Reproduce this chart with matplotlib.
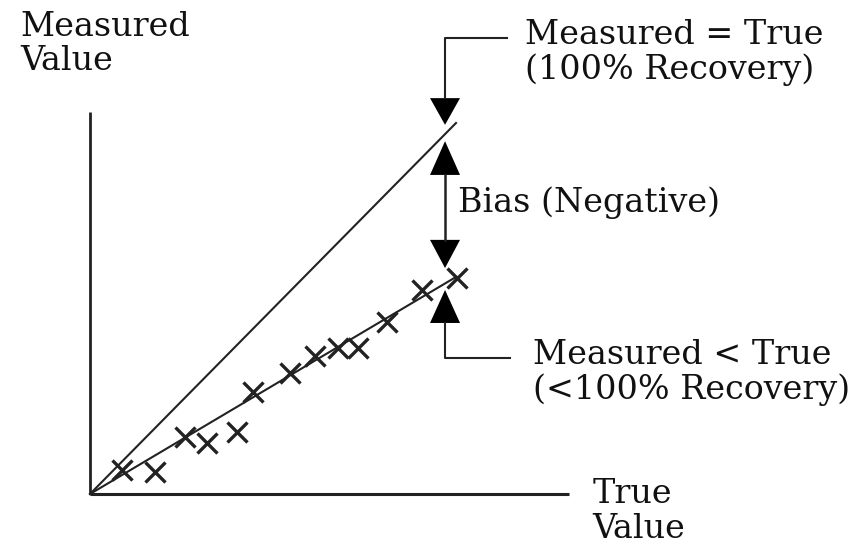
import numpy as np
import matplotlib.pyplot as plt

# measured vs true points
true_vals = [0.87, 1.78, 2.60, 3.19, 4.01, 4.46, 5.46, 6.15, 6.78, 7.33, 8.11, 9.06, 10.02]
meas_vals = [0.65, 0.60, 1.54, 1.37, 1.68, 2.76, 3.25, 3.72, 3.93, 3.93, 4.64, 5.50, 5.81]

ideal_slope = 1.0     # measured = true
fit_slope = 0.585     # measured < true
x_end = 10.0

labels = ["Measured = True\n(100% Recovery)", "Bias (Negative)",
          "Measured < True\n(<100% Recovery)", "True\nValue", "Measured\nValue"]


def tri(ax, x, tip, base, hw=0.41):
    ax.fill([x - hw, x + hw, x], [base, base, tip], color="black", lw=0)


fig = plt.figure(figsize=(8.54, 5.52), dpi=100)
ax = fig.add_axes([0, 0, 1, 1])
ax.set_xlim(-2.459, 20.874)
ax.set_ylim(-1.563, 13.315)
ax.axis("off")

font = dict(family="DejaVu Serif", fontsize=24, color="#111", linespacing=1.1)

# axes
ax.plot([0, 0], [0, 10.3], color="#222", lw=2, solid_capstyle="butt")
ax.plot([0, 13.1], [0, 0], color="#222", lw=2.2, solid_capstyle="butt")

# lines
xs = np.array([0, x_end])
ax.plot(xs, ideal_slope * xs, color="#222", lw=1.5)
ax.plot(xs, fit_slope * xs, color="#222", lw=1.5)
ax.plot(true_vals, meas_vals, "x", color="#222", ms=14, mew=2.4)

# arrows
xa = 9.70
ax.plot([11.39, xa, xa], [12.29, 12.29, 10.67], color="#222", lw=1.5)
tri(ax, xa, 9.95, 10.67)
tri(ax, xa, 9.51, 8.60)
ax.plot([xa, xa], [8.60, 6.85], color="#222", lw=1.8)
tri(ax, xa, 6.09, 6.85)
tri(ax, xa, 5.50, 4.61)
ax.plot([xa, xa, 11.48], [4.61, 3.67, 3.67], color="#222", lw=1.5)

# text
ax.text(11.89, 12.80, labels[0], va="top", ha="left", **font)
ax.text(10.05, 7.85, labels[1], va="center", ha="left", **font)
ax.text(12.10, 4.18, labels[2], va="top", ha="left", **font)
ax.text(13.72, 0.42, labels[3], va="top", ha="left", **font)
ax.text(-1.91, 13.02, labels[4], va="top", ha="left", **font)

fig.savefig("out.png", dpi=100)
